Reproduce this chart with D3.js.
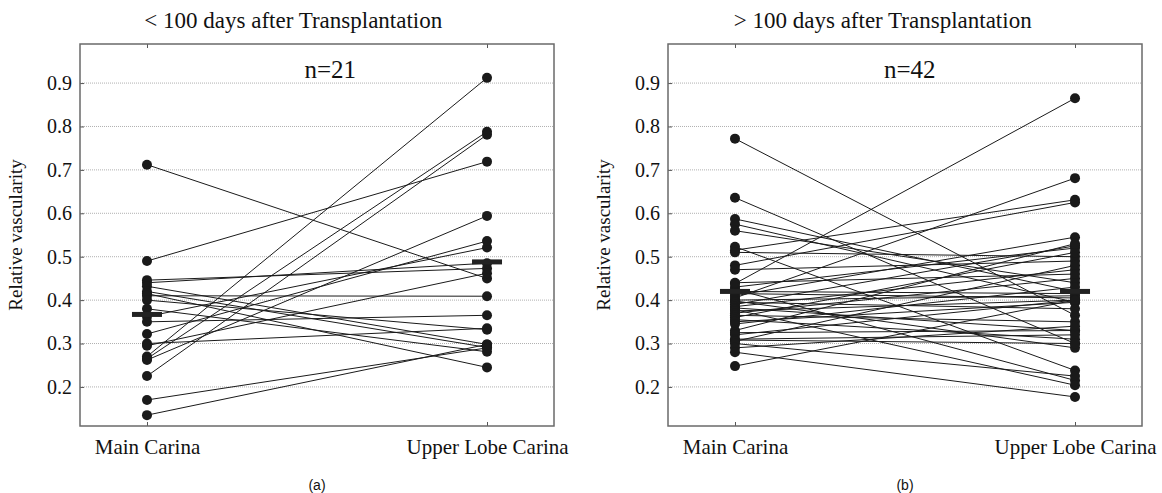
<!DOCTYPE html>
<html>
<head>
<meta charset="utf-8">
<script src="https://cdn.jsdelivr.net/npm/d3@7/dist/d3.min.js"></script>
<style>
  html, body { margin: 0; padding: 0; background: #fff; }
  svg { display: block; }
</style>
</head>
<body>
<svg id="chart" width="1162" height="493"></svg>
<script>
// ---------------- DATA ----------------
const categories = ["Main Carina", "Upper Lobe Carina"];
const yTicks = [0.2, 0.3, 0.4, 0.5, 0.6, 0.7, 0.8, 0.9];
const panelTitles = ["< 100 days after Transplantation", "> 100 days after Transplantation"];
const panelLabels = ["(a)", "(b)"];
const nLabels = ["n=21", "n=42"];

// panel (a): paired values
const earlyMain = [0.712, 0.490, 0.446, 0.440, 0.432, 0.420, 0.415, 0.410, 0.400, 0.380, 0.362,
                   0.350, 0.322, 0.300, 0.295, 0.270, 0.265, 0.262, 0.225, 0.170, 0.135];
const earlyUpper = [0.450, 0.719, 0.473, 0.485, 0.298, 0.291, 0.245, 0.409, 0.332, 0.281, 0.521,
                    0.365, 0.536, 0.335, 0.462, 0.912, 0.788, 0.594, 0.781, 0.290, 0.298];
const earlyMeans = [0.367, 0.488];

// panel (b): paired values
const lateMain = [0.772, 0.636, 0.587, 0.575, 0.560, 0.523, 0.515, 0.510, 0.480, 0.470, 0.438,
                  0.430, 0.425, 0.420, 0.415, 0.410, 0.405, 0.400, 0.398, 0.395, 0.390, 0.385,
                  0.382, 0.378, 0.375, 0.370, 0.365, 0.360, 0.355, 0.350, 0.345, 0.330, 0.325,
                  0.320, 0.310, 0.308, 0.305, 0.300, 0.290, 0.280, 0.248, 0.440];
const lateUpper = [0.365, 0.300, 0.420, 0.395, 0.440, 0.238, 0.631, 0.500, 0.625, 0.490, 0.865,
                   0.520, 0.215, 0.415, 0.405, 0.545, 0.681, 0.410, 0.290, 0.380, 0.525, 0.470,
                   0.330, 0.204, 0.400, 0.450, 0.350, 0.510, 0.310, 0.395, 0.430, 0.530, 0.330,
                   0.400, 0.320, 0.300, 0.480, 0.225, 0.340, 0.177, 0.400, 0.460];
const lateMeans = [0.420, 0.420];

// ---------------- LAYOUT ----------------
const svg = d3.select("#chart");
const panels = [
  { x0: 80, x1: 554, main: earlyMain, upper: earlyUpper, means: earlyMeans, titleAt: 0.45, nAt: 0.528 },
  { x0: 668, x1: 1142, main: lateMain, upper: lateUpper, means: lateMeans, titleAt: 0.453, nAt: 0.51 }
];
const yTop = 44, yBot = 426;
const serif = "'Liberation Serif', 'Times New Roman', serif";

panels.forEach((p, i) => {
  const g = svg.append("g");
  const W = p.x1 - p.x0;
  const x = d3.scalePoint().domain(categories).range([p.x0, p.x1]).padding(0.197);
  const y = d3.scaleLinear().domain([0.11, 0.99]).range([yBot, yTop]);

  // grid
  g.selectAll(".grid").data(yTicks).join("line")
    .attr("x1", p.x0).attr("x2", p.x1)
    .attr("y1", d => y(d)).attr("y2", d => y(d))
    .attr("stroke", "#b0b0b0").attr("stroke-width", 1)
    .attr("stroke-dasharray", "1,1");

  // axes
  const yAxis = d3.axisLeft(y).tickValues(yTicks).tickSize(-4).tickPadding(8).tickFormat(d3.format(".1f"));
  const ya = g.append("g").attr("transform", `translate(${p.x0},0)`).call(yAxis);
  const xAxis = d3.axisBottom(x).tickSize(-4).tickPadding(13);
  const xa = g.append("g").attr("transform", `translate(0,${yBot})`).call(xAxis);
  const xTop = d3.axisTop(x).tickSize(-4).tickFormat("");
  const xt = g.append("g").attr("transform", `translate(0,${yTop})`).call(xTop);
  [ya, xa, xt].forEach(a => {
    a.select(".domain").remove();
    a.selectAll(".tick line").attr("stroke", "#555");
    a.selectAll("text").attr("font-family", serif).attr("fill", "#111");
  });
  ya.selectAll("text").attr("font-size", 20);
  xa.selectAll("text").attr("font-size", 21);

  // box
  g.append("rect").attr("x", p.x0).attr("y", yTop)
    .attr("width", W).attr("height", yBot - yTop)
    .attr("fill", "none").attr("stroke", "#6a6a6a").attr("stroke-width", 1.5);

  // pair lines
  const pairs = p.main.map((m, k) => [m, p.upper[k]]);
  g.selectAll(".pair").data(pairs).join("line")
    .attr("x1", x(categories[0])).attr("x2", x(categories[1]))
    .attr("y1", d => y(d[0])).attr("y2", d => y(d[1]))
    .attr("stroke", "#1a1a1a").attr("stroke-width", 1);

  // points
  const pts = [];
  p.main.forEach(v => pts.push([categories[0], v]));
  p.upper.forEach(v => pts.push([categories[1], v]));
  g.selectAll(".pt").data(pts).join("circle")
    .attr("cx", d => x(d[0])).attr("cy", d => y(d[1])).attr("r", 5)
    .attr("fill", "#1a1a1a");

  // means
  g.selectAll(".mean").data(p.means).join("rect")
    .attr("x", (d, k) => x(categories[k]) - 15).attr("y", d => y(d) - 2.5)
    .attr("width", 30).attr("height", 5).attr("fill", "#222");

  // texts
  g.append("text").attr("x", p.x0 + p.titleAt * W).attr("y", 28).attr("text-anchor", "middle")
    .attr("font-family", serif).attr("font-size", 23).attr("fill", "#111").text(panelTitles[i]);
  g.append("text").attr("x", p.x0 + p.nAt * W).attr("y", 78).attr("text-anchor", "middle")
    .attr("font-family", serif).attr("font-size", 25).attr("fill", "#111").text(nLabels[i]);
  g.append("text").attr("x", p.x0 + W / 2).attr("y", 490).attr("text-anchor", "middle")
    .attr("font-family", "'Liberation Sans', Arial, sans-serif").attr("font-size", 14)
    .attr("fill", "#111").text(panelLabels[i]);
  g.append("text")
    .attr("transform", `translate(${p.x0 - 58},${(yTop + yBot) / 2}) rotate(-90)`)
    .attr("text-anchor", "middle").attr("font-family", serif).attr("font-size", 19)
    .attr("fill", "#111").text("Relative vascularity");
});
</script>
</body>
</html>
